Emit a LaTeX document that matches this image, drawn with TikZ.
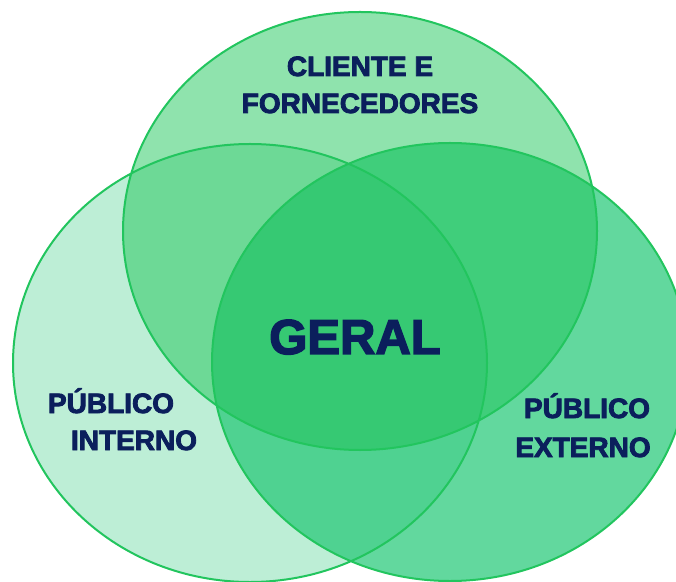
\documentclass[tikz,border=0pt]{standalone}
\usepackage{fontspec}
\setmainfont{Liberation Sans}
\newfontfamily\heavyfont{Liberation Sans Bold}[FakeBold=3]

\definecolor{ringline}{HTML}{22C55E}
\definecolor{leftonly}{HTML}{BDEED6}
\definecolor{toponly}{HTML}{8FE3AD}
\definecolor{rightonly}{HTML}{62D89E}
\definecolor{topleft}{HTML}{6DD996}
\definecolor{topright}{HTML}{40CE7B}
\definecolor{leftright}{HTML}{4FD291}
\definecolor{allthree}{HTML}{36C973}
\definecolor{labelnavy}{HTML}{0B1F5C}

% the three sets
\def\topset{(360,350) ellipse [x radius=237, y radius=219]}
\def\leftset{(250,218) ellipse [x radius=237, y radius=219]}
\def\rightset{(450,219) ellipse [x radius=238, y radius=219]}

\begin{document}
\begin{tikzpicture}[x=1pt,y=1pt,
        setlabel/.style={text=labelnavy, font=\heavyfont\fontsize{28}{28}\selectfont, inner sep=0pt, anchor=base},
        mainlabel/.style={setlabel, font=\heavyfont\fontsize{49}{49}\selectfont}]
    \useasboundingbox (0,0) rectangle (676,581);
    \fill[leftonly] \leftset;
    \fill[toponly] \topset;
    \fill[rightonly] \rightset;
    \begin{scope}
        \clip \topset;
        \fill[topleft] \leftset;
        \fill[topright] \rightset;
    \end{scope}
    \begin{scope}
        \clip \leftset;
        \fill[leftright] \rightset;
        \clip \topset;
        \fill[allthree] \rightset;
    \end{scope}
    \draw[ringline, line width=2pt] \topset \leftset \rightset;

    \node[setlabel] (clienteA) at (360,505) {CLIENTE E};
    \node[setlabel] (clienteB) at (360,468) {FORNECEDORES};
    \node[mainlabel] (geral) at (355,227) {GERAL};
    \node[setlabel] (internoA) at (111,168) {PÚBLICO};
    \node[setlabel] (internoB) at (134,131) {INTERNO};
    \node[setlabel] (externoA) at (587,163) {PÚBLICO};
    \node[setlabel] (externoB) at (583,124) {EXTERNO};
\end{tikzpicture}
\end{document}
